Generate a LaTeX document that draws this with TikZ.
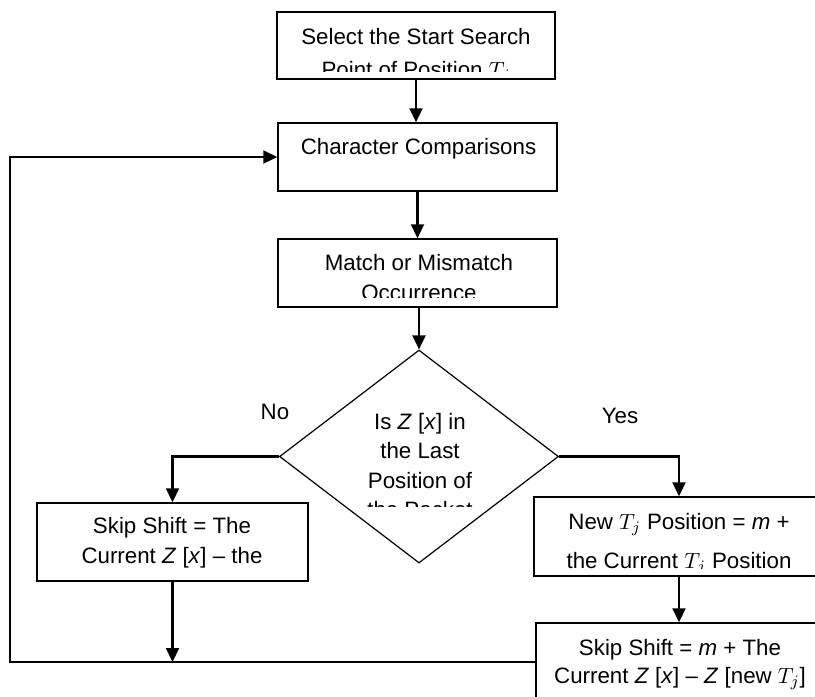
\documentclass[tikz,border=0pt]{standalone}
\usepackage{fontspec}
\setmainfont{Liberation Sans}
\usetikzlibrary{shapes.geometric,arrows.meta}

\begin{document}
\begin{tikzpicture}[x=0.5pt,y=-0.5pt,
        box/.style={draw, rectangle, line width=0.75pt, inner sep=0pt},
        txt/.style={align=center, inner sep=0pt, anchor=base, font=\fontsize{11.15pt}{15pt}\selectfont},
        arr/.style={line width=1.1pt, -{Triangle[width=6.5pt,length=7pt]}}]
        \path[use as bounding box, clip] (0,0) rectangle (815,697);
        % boxes
        \node[box, minimum width=139pt, minimum height=33.5pt] (sel) at (416,45.5) {};
        \node[box, minimum width=139.5pt, minimum height=34pt] (cmp) at (417.5,157) {};
        \node[box, minimum width=139.5pt, minimum height=34pt] (mat) at (417.5,273) {};
        \node[draw, diamond, line width=0.6pt, inner sep=0pt, minimum width=139.5pt, minimum height=106.5pt] (dia) at (419,456.5) {};
        \node[box, minimum width=135.5pt, minimum height=39pt] (skp) at (172.5,542) {};
        \node[box, minimum width=145pt, minimum height=39.5pt] (new) at (679,536.5) {};
        \node[box, minimum width=144pt, minimum height=43.5pt] (ssm) at (680,666.5) {};
        % texts, cut off where the picture cuts them
        \begin{scope}
            \clip (sel.north west) rectangle (555,71);
            \node[txt, font=\fontsize{11.15pt}{16.5pt}\selectfont] (sel-t) at (416,77) {Select the Start Search\\Point of Position $T_j$};
        \end{scope}
        \node[txt] (cmp-t) at (418.5,154) {Character Comparisons};
        \begin{scope}
            \clip (mat.north west) rectangle (557,297);
            \node[txt] (mat-t) at (419,300) {Match or Mismatch\\Occurrence};
        \end{scope}
        \begin{scope}
            \clip (300,400) rectangle (540,506);
            \node[txt, font=\fontsize{11.15pt}{14.75pt}\selectfont] (dia-t) at (420,517.5) {Is \textit{Z} [\textit{x}] in\\the Last\\Position of\\the Pocket};
        \end{scope}
        \begin{scope}
            \clip (skp.north west) rectangle (308,575);
            \node[txt] (skp-t) at (172,563) {Skip Shift = The\\Current \textit{Z} [\textit{x}] -- the};
        \end{scope}
        \begin{scope}
            \clip (new.north west) rectangle (824,568);
            \node[txt, font=\fontsize{11.15pt}{19.5pt}\selectfont] (new-t) at (679,568) {New $T_j$ Position = \textit{m} +\\the Current $T_j$ Position};
        \end{scope}
        \node[txt, font=\fontsize{11.15pt}{14pt}\selectfont] (ssm-t) at (680,683) {Skip Shift = \textit{m} + The\\Current \textit{Z} [\textit{x}] -- \textit{Z} [new $T_j$]};
        \node[txt] (no) at (275,419) {No};
        \node[txt] (yes) at (620,423) {Yes};
        % connectors
        \coordinate (rb) at (ssm.west |- 0,662);
        \coordinate (lf) at (10,662);
        \draw[arr] (sel.south) -- (sel.south |- cmp.north);
        \draw[arr] (cmp.south) -- (cmp.south |- mat.north);
        \draw[arr] (mat.south -| dia.north) -- (dia.north);
        \draw[arr] (dia.west) -| (skp.north);
        \draw[arr] (dia.east) -| (new.north);
        \draw[arr] (new.south) -- (new.south |- ssm.north);
        \draw[arr] (skp.south) -- (skp.south |- rb);
        \draw[arr] (rb) -- (lf) |- (cmp.west);
    \end{tikzpicture}
\end{document}
